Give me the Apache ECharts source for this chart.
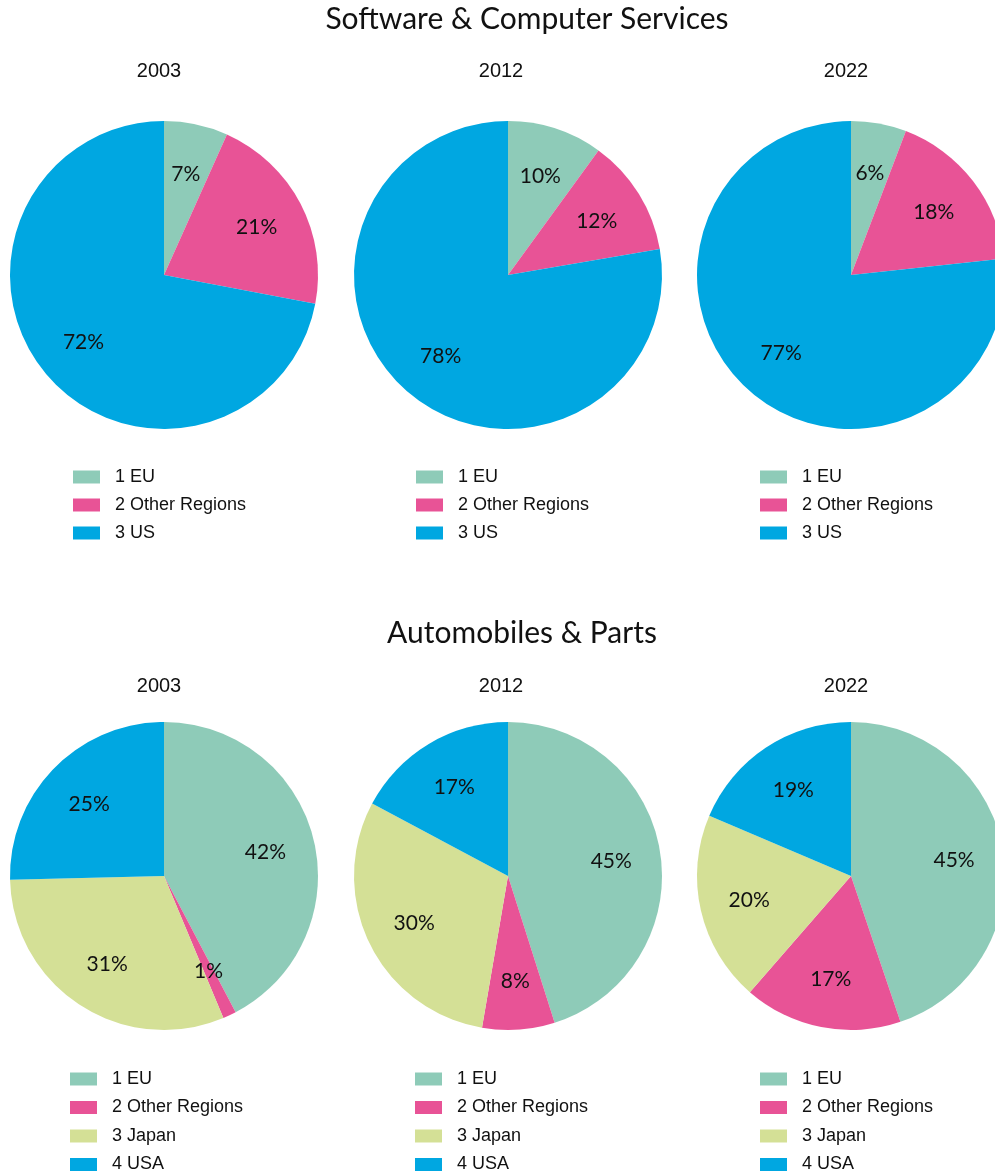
<!DOCTYPE html>
<html>
<head>
<meta charset="utf-8">
<script src="https://cdn.jsdelivr.net/npm/echarts@6/dist/echarts.min.js"></script>
<style>
  html, body { margin: 0; padding: 0; background: #fff; }
  #main { width: 995px; height: 1175px; }
</style>
</head>
<body>
<div id="main"></div>
<script>
// data
const years = ["2003", "2012", "2022"];

const softwareNames = ["1 EU", "2 Other Regions", "3 US"];
const software2003 = [6.7, 21.3, 72.0];
const software2012 = [10.0, 12.3, 77.7];
const software2022 = [5.8, 17.5, 76.7];

const autoNames = ["1 EU", "2 Other Regions", "3 Japan", "4 USA"];
const auto2003 = [42.3, 1.4, 30.9, 25.4];
const auto2012 = [45.1, 7.6, 30.1, 17.2];
const auto2022 = [44.8, 16.6, 20.0, 18.6];

// colours
const TEAL = "#8ecbb8";
const PINK = "#e85396";
const BLUE = "#00a7e1";
const YELLOW = "#d4e096";
const softwareColors = [TEAL, PINK, BLUE];
const autoColors = [TEAL, PINK, YELLOW, BLUE];

const TITLE_FONT = "Lato, 'Open Sans', sans-serif";
const PLAIN_FONT = "'Liberation Sans', Arial, sans-serif";

const colX = [164, 508, 851];
// title boxes carry 5px padding, so the anchor sits a bit left of the text centre
const yearX = [154, 496, 841];
const R = 154;

function buildData(names, values, colors) {
  return names.map((n, i) => ({
    name: n,
    value: values[i],
    itemStyle: { color: colors[i] },
  }));
}

function pieSeries(names, values, colors, cx, cy) {
  const data = buildData(names, values, colors);
  return [
    {
      type: "pie",
      center: [cx, cy],
      radius: [0, R],
      startAngle: 90,
      clockwise: true,
      silent: true,
      label: { show: false },
      labelLine: { show: false },
      data: data,
    },
    // label carrier: ring whose mid radius sits at ~0.66 R
    {
      type: "pie",
      center: [cx, cy],
      radius: [Math.round(R * 0.32), R],
      startAngle: 90,
      clockwise: true,
      silent: true,
      itemStyle: { color: "transparent" },
      label: {
        show: true,
        position: "inside",
        color: "#111",
        fontFamily: TITLE_FONT,
        fontSize: 21,
        offset: [0, 1],
        formatter: (p) => Math.round(p.value) + "%",
      },
      labelLine: { show: false },
      data: data.map((d) => ({ name: d.name, value: d.value })),
    },
  ];
}

function legendFor(names, left, top, gap) {
  return {
    orient: "vertical",
    left: left,
    top: top,
    height: 200,
    padding: 0,
    data: names,
    icon: "rect",
    itemWidth: 27,
    itemHeight: 13,
    itemGap: gap,
    selectedMode: false,
    textStyle: {
      fontFamily: PLAIN_FONT,
      fontSize: 18,
      color: "#111",
      padding: [0, 0, 0, 10],
    },
  };
}

const rows = [
  {
    title: "Software & Computer Services",
    titleX: 522,
    titleTop: -1,
    yearTop: 56,
    cy: 275,
    names: softwareNames,
    colors: softwareColors,
    values: [software2003, software2012, software2022],
    legendLeft: [73, 416, 760],
    legendTop: 468,
    legendGap: 10,
  },
  {
    title: "Automobiles & Parts",
    titleX: 517,
    titleTop: 613,
    yearTop: 671,
    cy: 876,
    names: autoNames,
    colors: autoColors,
    values: [auto2003, auto2012, auto2022],
    legendLeft: [70, 415, 760],
    legendTop: 1070,
    legendGap: 10.5,
  },
];

const titles = [];
const legends = [];
let series = [];

rows.forEach((row) => {
  titles.push({
    text: row.title,
    left: row.titleX,
    top: row.titleTop,
    textAlign: "center",
    textStyle: {
      fontFamily: TITLE_FONT,
      fontSize: 30,
      fontWeight: "normal",
      color: "#111",
    },
  });
  years.forEach((y, i) => {
    titles.push({
      text: y,
      left: yearX[i],
      top: row.yearTop,
      textAlign: "center",
      textStyle: {
        fontFamily: PLAIN_FONT,
        fontSize: 20,
        fontWeight: "normal",
        color: "#111",
      },
    });
    series = series.concat(
      pieSeries(row.names, row.values[i], row.colors, colX[i], row.cy)
    );
    legends.push(
      legendFor(row.names, row.legendLeft[i], row.legendTop, row.legendGap)
    );
  });
});

const chart = echarts.init(document.getElementById("main"));
chart.setOption({
  animation: false,
  backgroundColor: "#fff",
  title: titles,
  legend: legends,
  series: series,
});
</script>
</body>
</html>
